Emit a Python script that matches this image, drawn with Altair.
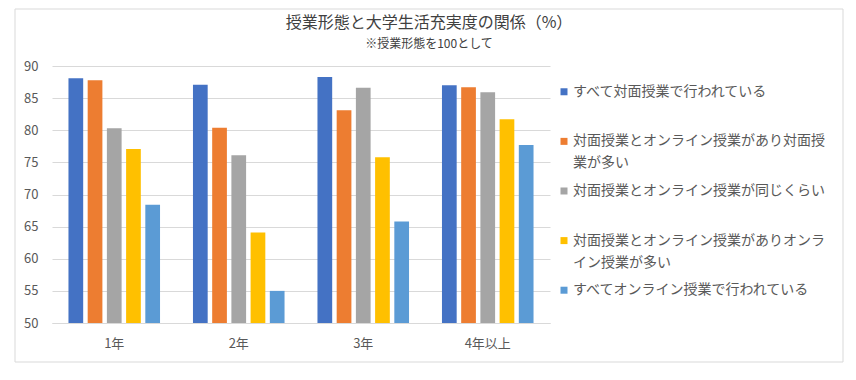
import altair as alt
import pandas as pd

FONT = "Noto Sans CJK JP"

years = ["1年", "2年", "3年", "4年以上"]
series = [
    "すべて対面授業で行われている",
    "対面授業とオンライン授業があり対面授業が多い",
    "対面授業とオンライン授業が同じくらい",
    "対面授業とオンライン授業がありオンライン授業が多い",
    "すべてオンライン授業で行われている",
]
legend_line1 = [
    "すべて対面授業で行われている",
    "対面授業とオンライン授業があり対面授",
    "対面授業とオンライン授業が同じくらい",
    "対面授業とオンライン授業がありオンラ",
    "すべてオンライン授業で行われている",
]
legend_line2 = ["", "業が多い", "", "イン授業が多い", ""]

all_face = [88.1, 87.1, 88.3, 87.0]
mostly_face = [87.8, 80.4, 83.1, 86.7]
equal_mix = [80.3, 76.1, 86.6, 85.9]
mostly_online = [77.1, 64.1, 75.8, 81.7]
all_online = [68.4, 55.0, 65.8, 77.7]

colors = ["#4472C4", "#ED7D31", "#A5A5A5", "#FFC000", "#5B9BD5"]
y_ticks = [50, 55, 60, 65, 70, 75, 80, 85, 90]

series_values = [all_face, mostly_face, equal_mix, mostly_online, all_online]
rows = []
for s, vals in zip(series, series_values):
    for y, v in zip(years, vals):
        rows.append({"year": y, "series": s, "value": v})
df = pd.DataFrame(rows)

leg_df = pd.DataFrame({
    "idx": list(range(len(series))),
    "series": series,
    "line1": legend_line1,
    "line2": legend_line2,
})

color_enc = alt.Color("series:N", scale=alt.Scale(domain=series, range=colors), legend=None)

bars = alt.Chart(df).mark_bar().encode(
    x=alt.X(
        "year:N", sort=years, title=None,
        scale=alt.Scale(paddingInner=0, paddingOuter=0),
        axis=alt.Axis(labelAngle=0, ticks=False, domainColor="#D9D9D9", labelPadding=14,
                      grid=False, labelFontSize=13, labelColor="#595959", labelFont=FONT),
    ),
    xOffset=alt.XOffset("series:N", sort=series,
                        scale=alt.Scale(paddingInner=0.234, paddingOuter=0.857)),
    y=alt.Y(
        "value:Q", title=None,
        scale=alt.Scale(domain=[50, 90], zero=False, nice=False),
        axis=alt.Axis(values=y_ticks, domain=False, ticks=False, gridColor="#D9D9D9",
                      labelPadding=14, labelFontSize=13, labelColor="#595959", labelFont=FONT),
    ),
    y2=alt.datum(50),
    color=color_enc,
)

border = alt.Chart(pd.DataFrame({"b": [0]})).mark_rect(
    fill="transparent", stroke="#D9D9D9", strokeWidth=1
).encode(
    x=alt.value(-37), x2=alt.value(791), y=alt.value(-57), y2=alt.value(296)
)

leg_y = alt.Y("idx:O", axis=None,
              scale=alt.Scale(type="point", padding=0.59, align=0.44))
leg = alt.Chart(leg_df)
squares = leg.mark_square(size=49, opacity=1).encode(
    x=alt.value(512), y=leg_y, color=color_enc
)
text1 = leg.mark_text(align="left", baseline="middle", fontSize=14, font=FONT,
                      color="#595959").encode(x=alt.value(521), y=leg_y, text="line1:N")
text2 = leg.mark_text(align="left", baseline="middle", fontSize=14, font=FONT,
                      color="#595959", dy=22).encode(x=alt.value(521), y=leg_y, text="line2:N")

chart = alt.layer(border, bars, squares, text1, text2).resolve_scale(
    y="independent"
).properties(
    width=498,
    height=257,
    title=alt.TitleParams(
        text="授業形態と大学生活充実度の関係（%）",
        subtitle="※授業形態を100として",
        font=FONT, subtitleFont=FONT,
        fontSize=16, subtitleFontSize=12,
        fontWeight="normal",
        color="#404040", subtitleColor="#404040",
        anchor="middle", frame="group", dx=128, offset=-41, subtitlePadding=8,
    ),
    padding={"left": 44, "top": 58, "right": 298, "bottom": 41},
    autosize=alt.AutoSizeParams(type="none"),
).configure_view(stroke=None)

chart.save("out.html", embed_options={"renderer": "svg", "actions": False})
